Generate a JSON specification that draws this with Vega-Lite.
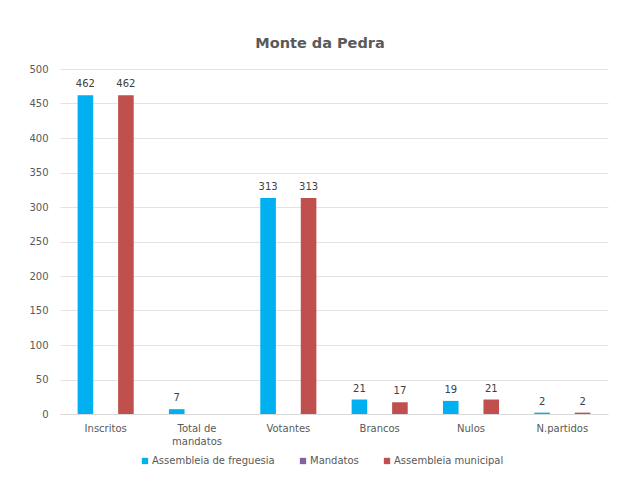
{
  "$schema": "https://vega.github.io/schema/vega-lite/v6.json",
  "autosize": {"type": "none"},
  "padding": {"left": 60, "top": 69, "right": 12, "bottom": 68},
  "width": 548,
  "height": 345,
  "background": "white",
  "config": {
    "font": "DejaVu Sans",
    "view": {"stroke": null},
    "axis": {"labelFont": "DejaVu Sans", "labelColor": "#595959", "labelFontSize": 10}
  },
  "title": {
    "text": "Monte da Pedra",
    "fontSize": 14.5,
    "fontWeight": "bold",
    "color": "#595959",
    "font": "DejaVu Sans",
    "offset": 13,
    "dx": -14
  },
  "data": {
    "values": [
      {"categoria": "Inscritos", "serie": "Assembleia de freguesia", "valor": 462},
      {"categoria": "Inscritos", "serie": "Assembleia municipal", "valor": 462},
      {"categoria": "Total de mandatos", "serie": "Assembleia de freguesia", "valor": 7},
      {"categoria": "Votantes", "serie": "Assembleia de freguesia", "valor": 313},
      {"categoria": "Votantes", "serie": "Assembleia municipal", "valor": 313},
      {"categoria": "Brancos", "serie": "Assembleia de freguesia", "valor": 21},
      {"categoria": "Brancos", "serie": "Assembleia municipal", "valor": 17},
      {"categoria": "Nulos", "serie": "Assembleia de freguesia", "valor": 19},
      {"categoria": "Nulos", "serie": "Assembleia municipal", "valor": 21},
      {"categoria": "N.partidos", "serie": "Assembleia de freguesia", "valor": 2},
      {"categoria": "N.partidos", "serie": "Assembleia municipal", "valor": 2}
    ]
  },
  "encoding": {
    "x": {
      "field": "categoria",
      "type": "nominal",
      "sort": ["Inscritos", "Total de mandatos", "Votantes", "Brancos", "Nulos", "N.partidos"],
      "scale": {"paddingInner": 0.335, "paddingOuter": 0.1675},
      "axis": {
        "title": null,
        "labelAngle": 0,
        "ticks": false,
        "domainColor": "#D9D9D9",
        "labelPadding": 9,
        "labelLineHeight": 13,
        "labelExpr": "datum.value == 'Total de mandatos' ? ['Total de', 'mandatos'] : datum.value"
      }
    },
    "xOffset": {
      "field": "serie",
      "type": "nominal",
      "scale": {
        "domain": ["Assembleia de freguesia", "Mandatos", "Assembleia municipal"],
        "paddingInner": 0.23,
        "paddingOuter": 0.115
      }
    },
    "y": {
      "field": "valor",
      "type": "quantitative",
      "scale": {"domain": [0, 500], "nice": false},
      "axis": {
        "title": null,
        "values": [0, 50, 100, 150, 200, 250, 300, 350, 400, 450, 500],
        "domain": false,
        "ticks": false,
        "labelFontSize": 10,
        "labelPadding": 12,
        "gridColor": "#E3E3E3"
      }
    }
  },
  "layer": [
    {
      "mark": {"type": "bar"},
      "encoding": {
        "color": {
          "field": "serie",
          "type": "nominal",
          "scale": {
            "domain": ["Assembleia de freguesia", "Mandatos", "Assembleia municipal"],
            "range": ["#00B0F0", "#8064A2", "#C0504D"]
          },
          "legend": {
            "title": null,
            "orient": "none",
            "direction": "horizontal",
            "legendX": 80,
            "legendY": 387,
            "symbolType": "square",
            "symbolSize": 40,
            "symbolStrokeWidth": 0,
            "labelFontSize": 10,
            "labelColor": "#595959",
            "labelFont": "DejaVu Sans",
            "columnPadding": 23,
            "labelOffset": 2
          }
        }
      }
    },
    {
      "mark": {"type": "text", "baseline": "bottom", "dy": -6, "fontSize": 10, "color": "#404040", "font": "DejaVu Sans"},
      "encoding": {
        "text": {"field": "valor", "type": "quantitative"}
      }
    }
  ]
}
